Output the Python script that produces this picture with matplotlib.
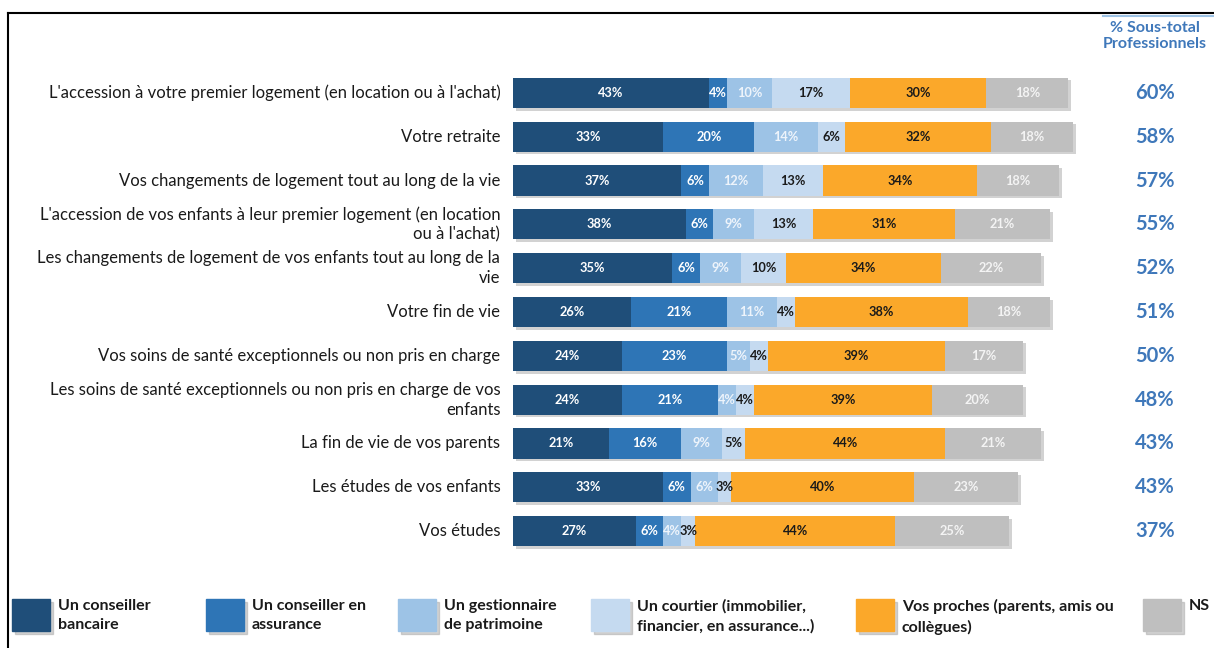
import matplotlib.pyplot as plt
from matplotlib.patches import Rectangle
from matplotlib.lines import Line2D
import numpy as np

plt.rcParams['font.family'] = ['Lato', 'DejaVu Sans']

categories = [
    "L'accession à votre premier logement (en location ou à l'achat)",
    "Votre retraite",
    "Vos changements de logement tout au long de la vie",
    "L'accession de vos enfants à leur premier logement (en location\nou à l'achat)",
    "Les changements de logement de vos enfants tout au long de la\nvie",
    "Votre fin de vie",
    "Vos soins de santé exceptionnels ou non pris en charge",
    "Les soins de santé exceptionnels ou non pris en charge de vos\nenfants",
    "La fin de vie de vos parents",
    "Les études de vos enfants",
    "Vos études",
]

conseiller_bancaire = [43, 33, 37, 38, 35, 26, 24, 24, 21, 33, 27]
conseiller_assurance = [4, 20, 6, 6, 6, 21, 23, 21, 16, 6, 6]
gestionnaire = [10, 14, 12, 9, 9, 11, 5, 4, 9, 6, 4]
courtier = [17, 6, 13, 13, 10, 4, 4, 4, 5, 3, 3]
proches = [30, 32, 34, 31, 34, 38, 39, 39, 44, 40, 44]
ns = [18, 18, 18, 21, 22, 18, 17, 20, 21, 23, 25]
sous_total = [60, 58, 57, 55, 52, 51, 50, 48, 43, 43, 37]

series_names = [
    "Un conseiller\nbancaire",
    "Un conseiller en\nassurance",
    "Un gestionnaire\nde patrimoine",
    "Un courtier (immobilier,\nfinancier, en assurance...)",
    "Vos proches (parents, amis ou\ncollègues)",
    "NS",
]

series = [conseiller_bancaire, conseiller_assurance, gestionnaire, courtier, proches, ns]
colors = ['#1F4E79', '#2E75B6', '#9DC3E6', '#C5DAF0', '#FBA82A', '#BFBFBF']
text_colors = ['white', 'white', '#EEF4FB', '#1A1A1A', '#1A1A1A', '#F4F4F4']
blue_txt = '#3F78BA'

fig = plt.figure(figsize=(12.14, 6.48), dpi=100)
ax = fig.add_axes([513 / 1214, 1 - 553 / 648, 569 / 1214, 482 / 648])

y = np.arange(len(categories))
h = 0.69

# ombre portée
totals = np.sum(series, axis=0)
ax.barh(y + 0.06, totals, left=0.6, height=h, color='#A6A6A6', alpha=0.5, zorder=1)

left = np.zeros(len(categories))
for vals, col, tcol in zip(series, colors, text_colors):
    vals = np.array(vals)
    ax.barh(y, vals, left=left, height=h, color=col, zorder=2)
    for yi, l, v in zip(y, left, vals):
        ax.text(l + v / 2, yi, f'{v}%', ha='center', va='center',
                fontsize=9.2, fontweight='bold', color=tcol, zorder=3)
    left += vals

ax.set_xlim(0, 125)
ax.set_ylim(len(categories) - 0.5, -0.5)
ax.axis('off')

for yi, cat in zip(y, categories):
    ax.text(-2.8, yi, cat, ha='right', va='center', fontsize=12, color='#1A1A1A',
            linespacing=1.3)

for yi, v in zip(y, sous_total):
    ax.annotate(f'{v}%', xy=(1155 / 1214, yi), xycoords=('figure fraction', 'data'),
                ha='center', va='center', fontsize=14.5, fontweight='bold', color=blue_txt)

fig.text(1155 / 1214, 1 - 36 / 648, '% Sous-total\nProfessionnels', ha='center', va='center',
         fontsize=11.5, fontweight='bold', color=blue_txt, linespacing=1.2)

# légende
sq_x = [12, 206, 398, 591, 856, 1143]
for sx, name, col in zip(sq_x, series_names, colors):
    fig.patches.append(Rectangle(((sx + 3) / 1214, 1 - 634 / 648), 38 / 1214, 32 / 648,
                                 transform=fig.transFigure, color='#A6A6A6', alpha=0.5))
    fig.patches.append(Rectangle((sx / 1214, 1 - 631 / 648), 38 / 1214, 32 / 648,
                                 transform=fig.transFigure, color=col))
    fig.text((sx + 46) / 1214, 1 - 599 / 648, name, ha='left', va='top', fontsize=11.5,
             fontweight='bold', color='#1A1A1A', linespacing=1.45)

# cadre
fig.add_artist(Line2D([8 / 1214, 1], [1 - 13 / 648, 1 - 13 / 648], color='black', lw=1.5))
fig.add_artist(Line2D([8 / 1214, 8 / 1214], [0, 1 - 13 / 648], color='black', lw=1.5))
fig.add_artist(Line2D([1103 / 1214, 1], [1 - 16 / 648, 1 - 16 / 648], color='#9DC3E6', lw=1.5))

plt.savefig('out.png', dpi=100)
